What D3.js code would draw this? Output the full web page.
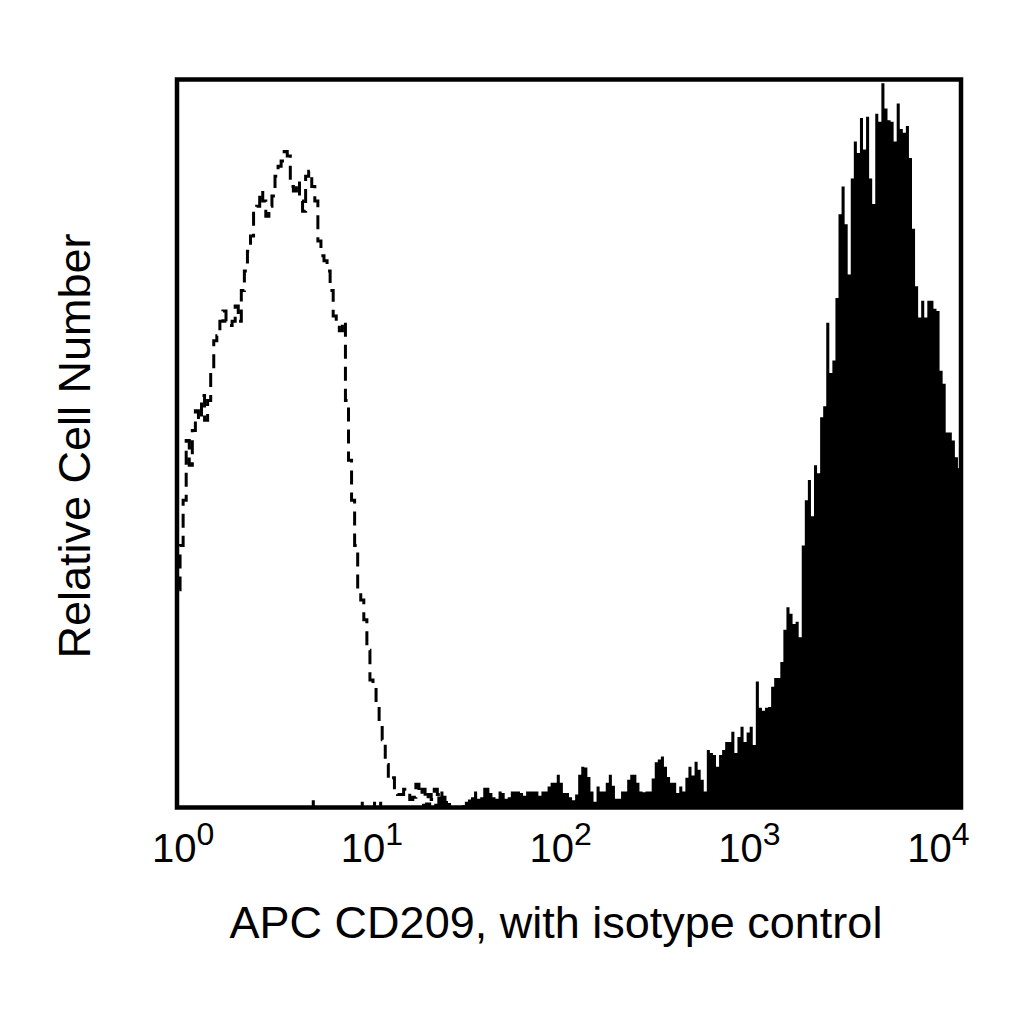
<!doctype html>
<html lang="en">
  <head>
    <meta charset="utf-8">
    <title>APC CD209 histogram</title>
    <script src="https://d3js.org/d3.v7.min.js"></script>
    <style>
      body { margin: 0; background: #fff; }
      text { font-family: "Liberation Sans", Arial, sans-serif; fill: #000; }
    </style>
  </head>

  <body>
    <svg width="1024" height="1024"></svg>
    <script>
      // channel layout of the log axis (256 channels)
      var logMin = -0.032, logMax = 4.12, nChannels = 256;

      // isotype control, relative counts per channel, from channel 0
      var isoStart = 0;
      var isoCounts = [
        29.9, 36.0, 42.2, 50.4, 47.0, 51.8, 54.5, 53.2, 56.6, 53.2,
        55.9, 60.0, 64.1, 64.8, 66.8, 68.2, 66.8, 66.2, 66.8, 68.9,
        66.8, 71.0, 73.7, 76.4, 78.5, 81.9, 82.6, 84.7, 83.3, 81.2,
        82.6, 84.0, 86.7, 88.1, 88.8, 90.1, 89.5, 85.3, 84.7, 86.0,
        83.3, 81.9, 86.7, 87.4, 85.3, 83.3, 77.8, 75.8, 75.1, 73.7,
        71.0, 67.5, 66.8, 65.5, 66.8, 55.9, 47.7, 42.2, 36.0, 29.9,
        28.5, 25.8, 21.6, 17.5, 16.2, 14.1, 11.4, 9.3, 5.9, 3.8,
        4.1, 2.7, 1.8, 1.8, 2.5, 2.2, 1.1, 1.4, 3.2, 1.8,
        2.5, 1.1, 1.8, 1.1, 2.5, 1.8, 1.1, 0.7, 0.4
      ];

      // APC CD209 stained cells, relative counts per channel, from channel 40
      var cd209Start = 40;
      var cd209Counts = [
        0, 0, 0, 0, 1.0, 0, 0, 0, 0, 0,
        0, 0, 0, 0, 0, 0, 0, 0, 0, 0,
        0.8, 0, 0, 0, 0.8, 0, 0.8, 0, 0, 0,
        0, 0, 0, 0, 0, 0, 0, 0, 0, 0,
        0.5, 0.7, 0.7, 0, 0.5, 1.5, 2.2, 1.6, 0.5, 0,
        0, 0, 0, 0.3, 0.8, 1.1, 1.4, 2.2, 1.2, 1.4,
        2.7, 2.7, 2.0, 1.4, 1.2, 2.2, 2.0, 1.2, 1.4, 2.2,
        2.2, 2.2, 2.0, 1.6, 2.2, 2.2, 2.2, 2.2, 1.6, 2.2,
        2.2, 2.9, 3.4, 3.4, 4.5, 3.4, 2.0, 2.0, 1.4, 1.0,
        1.8, 4.5, 5.6, 5.5, 4.2, 2.2, 0.8, 2.9, 2.2, 2.2,
        3.4, 4.5, 3.0, 1.2, 1.2, 2.2, 2.2, 3.8, 4.5, 4.5,
        3.4, 2.2, 2.1, 2.2, 2.2, 4.0, 6.2, 6.6, 7.0, 5.6,
        4.2, 3.4, 3.4, 2.0, 2.9, 2.2, 4.1, 5.6, 4.4, 6.3,
        5.2, 3.8, 2.2, 7.9, 7.5, 7.2, 5.6, 7.2, 7.9, 9.0,
        9.0, 10.4, 7.5, 9.7, 11.1, 9.0, 10.3, 11.1, 8.6, 17.3,
        13.7, 13.3, 13.7, 13.8, 16.6, 17.8, 17.8, 20.0, 24.4, 27.5,
        26.6, 25.2, 25.5, 23.4, 36.0, 42.2, 45.0, 40.0, 47.0, 45.9,
        53.6, 55.1, 66.6, 59.7, 61.4, 70.0, 81.5, 85.3, 80.1, 73.2,
        86.4, 91.5, 89.9, 94.7, 90.4, 94.9, 86.4, 82.9, 95.3, 94.2,
        99.5, 96.0, 94.4, 94.2, 91.5, 96.7, 93.2, 92.7, 93.6, 89.2,
        79.5, 71.6, 67.3, 69.6, 67.3, 69.6, 69.6, 68.5, 68.2, 60.0,
        58.2, 51.5, 51.5, 50.4, 48.1, 46.6
      ];

      var decades = [0, 1, 2, 3, 4];
      var xTitle = 'APC CD209, with isotype control';
      var yTitle = 'Relative Cell Number';

      // plot box (note: "top" is taken by window.top, so use other names)
      var box = { l: 177, r: 961, t: 79.5, b: 807.5 };

      var svg = d3.select('svg');

      var x = d3.scaleLog()
        .domain([Math.pow(10, logMin), Math.pow(10, logMax)])
        .range([box.l, box.r]);
      var y = d3.scaleLinear().domain([0, 100]).range([box.b, box.t]);

      var edge = function(ch){
        return Math.pow(10, logMin + ch * (logMax - logMin) / nChannels);
      };

      // turn a counts array into step points (left edge of each channel)
      var steps = function(start, counts){
        var pts = counts.map(function(v, i){ return { e: edge(start + i), v: v }; });
        pts.push({ e: edge(start + counts.length), v: counts[counts.length - 1] });
        return pts;
      };

      svg.append('defs').append('clipPath').attr('id', 'plot')
        .append('rect')
          .attr('x', box.l).attr('y', box.t)
          .attr('width', box.r - box.l).attr('height', box.b - box.t);

      var g = svg.append('g').attr('clip-path', 'url(#plot)');

      var area = d3.area()
        .curve(d3.curveStepAfter)
        .x(function(d){ return x(d.e); })
        .y0(y(0))
        .y1(function(d){ return y(d.v); });

      g.append('path')
        .datum(steps(cd209Start, cd209Counts))
        .attr('d', area)
        .style('fill', '#000');

      var isoPts = steps(isoStart, isoCounts);
      isoPts[isoPts.length - 1].v = 0;
      var line = d3.line()
        .curve(d3.curveStepAfter)
        .x(function(d){ return x(d.e); })
        .y(function(d){ return y(d.v); });

      g.append('path')
        .datum([{ e: edge(isoStart), v: 0 }].concat(isoPts))
        .attr('d', line)
        .style('fill', 'none')
        .style('stroke', '#000')
        .style('stroke-width', 3)
        .style('stroke-dasharray', '14,8');

      // frame
      svg.append('rect')
        .attr('x', box.l).attr('y', box.t)
        .attr('width', box.r - box.l).attr('height', box.b - box.t)
        .style('fill', 'none')
        .style('stroke', '#000')
        .style('stroke-width', 4.5);

      // tick labels 10^n
      var labels = svg.selectAll('text.tick').data(decades).enter()
        .append('text')
          .attr('class', 'tick')
          .attr('x', function(d){ return x(Math.pow(10, d)); })
          .attr('y', 862)
          .attr('text-anchor', 'middle')
          .style('font-size', '40px');
      labels.append('tspan').text('10');
      labels.append('tspan')
        .attr('dy', -17)
        .style('font-size', '32px')
        .text(function(d){ return d; });

      svg.append('text')
        .attr('x', (box.l + box.r) / 2 - 13)
        .attr('y', 938)
        .attr('text-anchor', 'middle')
        .style('font-size', '45px')
        .text(xTitle);

      svg.append('text')
        .attr('transform', 'translate(90,446) rotate(-90)')
        .attr('text-anchor', 'middle')
        .style('font-size', '45px')
        .text(yTitle);
    </script>
  </body>
</html>
